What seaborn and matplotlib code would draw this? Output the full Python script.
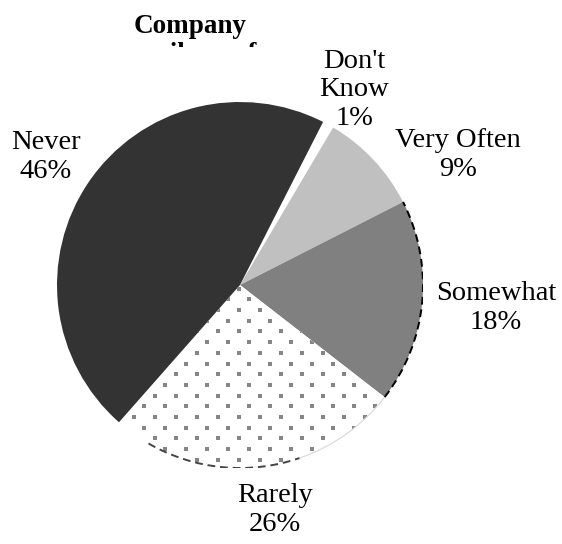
import numpy as np
import matplotlib
matplotlib.use("Agg")
import matplotlib.pyplot as plt
import seaborn as sns
from matplotlib.patches import Arc
from matplotlib.transforms import Bbox

# Survey answers, clockwise from the top
categories = ["Don't\nKnow", "Very Often", "Somewhat", "Rarely", "Never"]
shares = [1, 9, 18, 26, 46]
slice_colors = ["#ffffff", "#c0c0c0", "#808080", "#ffffff", "#333333"]
title_line1 = "Company"
title_line2 = "email use of"

# Label anchor points in pie units (radius = 1)
label_xy = [(0.623, 1.066), (1.191, 0.710), (1.399, -0.126),
            (0.191, -1.230), (-1.060, 0.699)]

sns.set_theme(style="white")
plt.rcParams["font.family"] = ["Liberation Serif", "DejaVu Serif"]

W, H = 562, 544
fig = plt.figure(figsize=(W / 100, H / 100), dpi=100)
fig.patch.set_facecolor("white")
ax = fig.add_axes([57 / W, 76 / H, 366 / W, 366 / H])

wedges, _ = ax.pie(shares, colors=slice_colors, startangle=63.0,
                   counterclock=False, radius=1,
                   wedgeprops=dict(linewidth=0))
ax.set_xlim(-1, 1)
ax.set_ylim(-1, 1)
ax.set_aspect("equal")
ax.axis("off")

# Dotted fill for the "Rarely" slice
rarely = wedges[categories.index("Rarely")]
step_x, step_y = 21 / 183, 10.7 / 183
px, py = [], []
for k in range(-120, 120):
    y = -0.546 + k * step_y
    if abs(y) > 1.02:
        continue
    off = (k % 2) * step_x / 2
    for j in range(-20, 20):
        x = -0.180 + j * step_x + off
        if x * x + y * y < 1.0:
            px.append(x)
            py.append(y)
dots = ax.scatter(px, py, s=5, marker="s", color="#858585", linewidths=0, zorder=3)
dots.set_clip_path(rarely)

# Dashed rim on the "Somewhat" slice and the bottom of "Rarely"
somewhat = wedges[categories.index("Somewhat")]
ax.add_patch(Arc((0, 0), 2, 2, theta1=somewhat.theta1, theta2=somewhat.theta2,
                 color="black", lw=1.4, ls=(0, (4, 2.5)), zorder=4))
ax.add_patch(Arc((0, 0), 2, 2, theta1=-120, theta2=-71,
                 color="#444444", lw=1.4, ls=(0, (4, 2.5)), zorder=4))
ax.add_patch(Arc((0, 0), 2, 2, theta1=-71, theta2=rarely.theta2,
                 color="#d8d8d8", lw=0.8, zorder=4))

# Slice labels
for cat, val, (lx, ly) in zip(categories, shares, label_xy):
    ax.text(lx, ly, f"{cat}\n{val}%", ha="center", va="center",
            multialignment="center", fontsize=20.5, linespacing=1.18,
            color="black", clip_on=False)

# Title
fig.text(190 / W, 1 - 33 / H, title_line1, ha="center", va="baseline",
         fontsize=19.5, fontweight="bold", color="black")
t2 = fig.text(190 / W, 1 - 60 / H, title_line2, ha="center", va="baseline",
              fontsize=19, fontweight="bold", color="black")
t2.set_clip_on(True)
t2.set_clip_box(Bbox([[0, H - 47], [W, H - 30]]))

fig.savefig("out.png", dpi=100)
